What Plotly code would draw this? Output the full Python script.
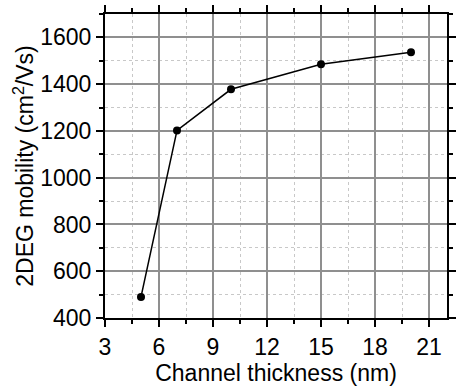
import plotly.graph_objects as go

# Mobility of the 2DEG versus channel thickness
thickness_nm = [5, 7, 10, 15, 20]
mobility = [490, 1202, 1378, 1485, 1536]

x_ticks = [3, 6, 9, 12, 15, 18, 21]
y_ticks = [400, 600, 800, 1000, 1200, 1400, 1600]

fig = go.Figure()
fig.add_trace(go.Scatter(
    x=thickness_nm, y=mobility, mode="lines+markers",
    line=dict(color="black", width=1.5),
    marker=dict(color="black", size=8),
    showlegend=False,
))

font = dict(family="Liberation Sans, Arial, sans-serif", color="black")

axis_common = dict(
    showline=True, linecolor="black", linewidth=2, mirror="ticks",
    ticks="outside", ticklen=7, tickwidth=1.5, tickcolor="black",
    showgrid=True, gridcolor="#8f8f8f", gridwidth=1.5,
    zeroline=False,
    tickfont=dict(size=23, **font),
)

fig.update_xaxes(
    range=[3, 22], tickvals=x_ticks,
    title=dict(text="Channel thickness (nm)", font=dict(size=23, **font), standoff=4),
    minor=dict(dtick=1.5, tick0=3, ticks="outside", ticklen=4, tickcolor="black",
               showgrid=True, gridcolor="#c8c8c8", gridwidth=1, griddash="dot"),
    **axis_common,
)
fig.update_yaxes(
    range=[400, 1700], tickvals=y_ticks,
    title=dict(text="2DEG mobility (cm<sup>2</sup>/Vs)", font=dict(size=23, **font), standoff=0),
    minor=dict(dtick=100, tick0=400, ticks="outside", ticklen=4, tickcolor="black",
               showgrid=True, gridcolor="#c8c8c8", gridwidth=1, griddash="dot"),
    **axis_common,
)

fig.update_layout(
    width=461, height=390,
    margin=dict(l=105, r=5, t=14, b=72),
    plot_bgcolor="white", paper_bgcolor="white",
    font=font,
)

fig.write_html("out.html")
